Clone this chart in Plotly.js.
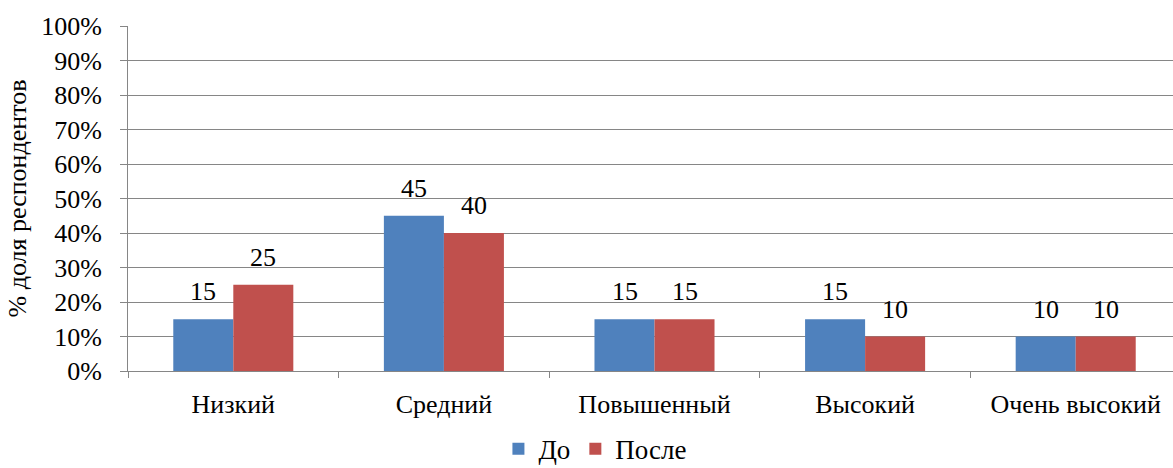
<!DOCTYPE html>
<html><head><meta charset="utf-8">
<script src="https://cdn.plot.ly/plotly-3.0.1.min.js"></script>
<style>html,body{margin:0;padding:0;background:#fff}</style>
</head><body>
<div id="chart" style="width:1173px;height:468px"></div>
<script>
const categories = ["Низкий", "Средний", "Повышенный", "Высокий", "Очень высокий"];
const seriesNames = ["До", "После"];
const valuesBefore = [15, 45, 15, 15, 10];
const valuesAfter = [25, 40, 15, 10, 10];
const yTickVals = [0,10,20,30,40,50,60,70,80,90,100];
const yTickText = yTickVals.map(v => v + "%");

const FONT = "Liberation Serif";
const FS = 26;
const GRID = "#868686";

const traces = [
  {type:"bar", name:seriesNames[0], x:categories, y:valuesBefore, marker:{color:"#4F81BD"}, hoverinfo:"skip"},
  {type:"bar", name:seriesNames[1], x:categories, y:valuesAfter, marker:{color:"#C0504D"}, hoverinfo:"skip"}
];

const annotations = [];
[[valuesBefore,-30],[valuesAfter,30]].forEach(([vals,dx]) => {
  vals.forEach((v,i) => annotations.push({
    x: categories[i], y: v, xref:"x", yref:"y", text: String(v),
    showarrow:false, xanchor:"center", yanchor:"bottom", xshift:dx, yshift:11,
    font:{family:FONT, size:FS, color:"#000"}
  }));
});

const layout = {
  width:1173, height:468,
  margin:{l:128, r:0, t:26, b:97, pad:0, autoexpand:false},
  paper_bgcolor:"#fff", plot_bgcolor:"#fff",
  font:{family:FONT, size:FS, color:"#000"},
  barmode:"group", bargap:0.43, bargroupgap:0,
  showlegend:true,
  legend:{orientation:"h", x:0.4473, xanchor:"center", yref:"container", y:0.04, yanchor:"middle",
          font:{family:FONT, size:27}, itemwidth:30, tracegroupgap:0},
  xaxis:{type:"category", range:[-0.5, 4.462], showline:true, linecolor:GRID, linewidth:1,
         ticks:"outside", tickson:"boundaries", ticklen:6, tickcolor:GRID, ticklabelstandoff:10,
         showgrid:false, tickfont:{family:FONT, size:FS}, fixedrange:true},
  yaxis:{range:[0,100], tickvals:yTickVals, ticktext:yTickText, showline:true, linecolor:GRID,
         ticks:"outside", ticklen:7, tickcolor:GRID, showgrid:true, gridcolor:GRID, gridwidth:1,
         zeroline:false, tickfont:{family:FONT, size:FS}, ticklabelstandoff:13,
         title:{text:"% доля респондентов", font:{family:FONT, size:FS}, standoff:7}},
  annotations: annotations
};
Plotly.newPlot("chart", traces, layout, {displayModeBar:false, staticPlot:true});
</script>
</body></html>
